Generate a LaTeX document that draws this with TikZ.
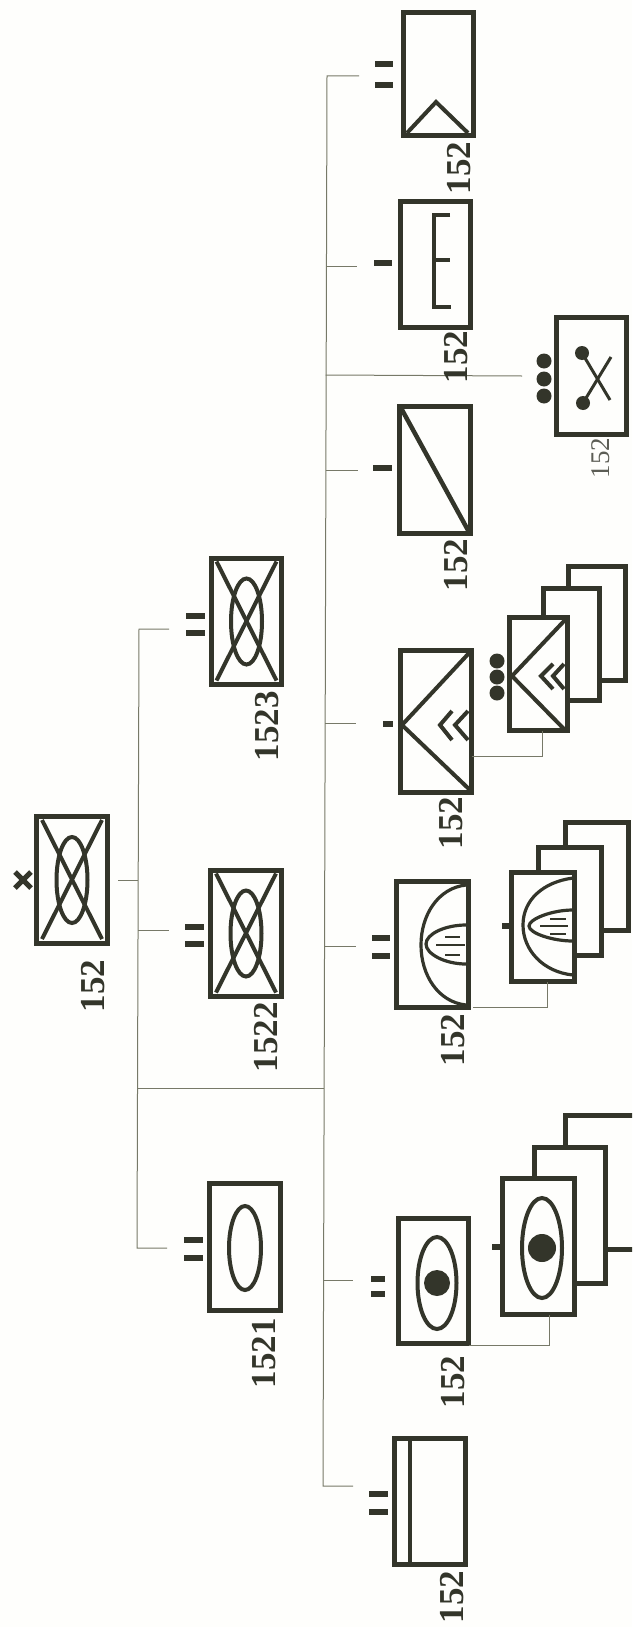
\documentclass[tikz,border=0pt]{standalone}
\usepackage{fontspec}
\setmainfont{Liberation Serif}
\definecolor{ink}{HTML}{33352A}
\definecolor{wire}{HTML}{777968}
\definecolor{paper}{HTML}{FEFEFC}
\tikzset{
  boxshape/.style={draw=ink,fill=paper,line width=5pt,inner sep=0pt,outer sep=0pt},
  glyph/.style={draw=ink,line width=4pt},
  finehatch/.style={draw=ink,line width=1.2pt},
  tick/.style={draw=ink,line width=5.5pt},
  wireline/.style={draw=wire,line width=1pt},
  reflabel/.style={rotate=90,text=ink,inner sep=0pt,font=\fontsize{35}{35}\selectfont\bfseries},
  smalllabel/.style={rotate=90,text=ink!80,inner sep=0pt,font=\fontsize{27}{27}\selectfont},
  dotmark/.style={fill=ink,draw=none}
}
\newcommand{\BX}[5]{\node[boxshape,minimum width={(#4-#2-5)*1pt},minimum height={(#5-#3-5)*1pt}] (#1) at ({(#2+#4)/2},{(#3+#5)/2}) {};}
\newcommand{\Cross}[2]{% ellipse and cross, centre x,y
  \draw[glyph] (#1,#2) ellipse [x radius=15.5,y radius=43];
  \draw[glyph] (#1-30,#2-60) -- (#1+30,#2+59);
  \draw[glyph] (#1+30,#2-60) -- (#1-30,#2+59);}
\newcommand{\HT}[4]{\draw[tick] (#1,#3) -- (#2,#3); \draw[tick] (#1,#4) -- (#2,#4);}
\begin{document}
\begin{tikzpicture}[x=1pt,y=-1pt]
\clip (0,0) rectangle (632,1627);
\fill[paper] (0,0) rectangle (632,1627);

% tree wires
\coordinate (rootS) at (118,880);
\coordinate (lt) at (139,629);
\coordinate (lm) at (138,880);
\coordinate (lj) at (137.5,1088);
\coordinate (lb) at (137,1248);
\coordinate (rt) at (327,76);
\coordinate (rj) at (324,1088);
\coordinate (rb) at (323,1486);
\coordinate (s1523) at (169,629);
\coordinate (s1522) at (169,930);
\coordinate (s1521) at (167,1248);
\coordinate (sTop) at (359,76);
\coordinate (sE) at (357,266);
\coordinate (sX) at (522,376);
\coordinate (bX) at (325.5,375);
\coordinate (sSl) at (358,470);
\coordinate (bSl) at (325.5,470);
\coordinate (sCh) at (356,723);
\coordinate (bCh) at (325,723);
\coordinate (sDo) at (356,946);
\coordinate (bDo) at (324.5,946);
\coordinate (sEy) at (353,1280);
\coordinate (bEy) at (323.5,1280);
\coordinate (sBa) at (353,1486);
\coordinate (bE) at (326.5,266);
\coordinate (l22) at (138,930);
\draw[wireline] (s1523) -- (lt) -- (lb) -- (s1521);
\draw[wireline] (rootS) -- (lm);
\draw[wireline] (l22) -- (s1522);
\draw[wireline] (lj) -- (rj);
\draw[wireline] (sTop) -- (rt) -- (rb) -- (sBa);
\draw[wireline] (bE) -- (sE);
\draw[wireline] (bX) -- (sX);
\draw[wireline] (bSl) -- (sSl);
\draw[wireline] (bCh) -- (sCh);
\draw[wireline] (bDo) -- (sDo);
\draw[wireline] (bEy) -- (sEy);

% root
\BX{root}{34}{814}{110}{946}
\Cross{72}{880}
\draw[draw=ink,line width=5pt] (15,872) -- (31,888) (15,888) -- (31,872);
\node[reflabel] (lroot) at (93,986) {152};

% level 2
\BX{b1523}{209}{556}{284}{687}
\Cross{246.5}{621.5}
\HT{186}{205}{616}{633}
\node[reflabel] (l1523) at (267,726) {1523};

\BX{b1522}{208}{868}{284}{999}
\Cross{246}{933.5}
\HT{185}{204}{927}{944}
\node[reflabel] (l1522) at (266,1037) {1522};

\BX{b1521}{207}{1181}{283}{1313}
\draw[glyph] (245,1248) ellipse [x radius=16,y radius=42];
\HT{184}{203}{1240}{1258}
\node[reflabel] (l1521) at (264,1353) {1521};

% top box
\BX{bTop}{401}{10}{476}{138}
\draw[glyph] (407,133) -- (436,102) -- (468,133);
\HT{375}{393}{64}{85}
\node[reflabel] (lTop) at (459,168) {152};

% E box
\BX{bE}{398}{199}{473}{330}
\draw[glyph,line join=miter] (450,215) -- (434,215) -- (434,307) -- (451,307);
\draw[glyph] (434,260) -- (450,260);
\draw[tick] (374,263) -- (392,263);
\node[reflabel] (lE) at (456,357) {152};

% slash box
\BX{bSl}{397}{404}{473}{536}
\draw[glyph,line width=4.5pt] (401,408) -- (469,532);
\draw[tick] (373,468) -- (392,468);
\node[reflabel] (lSl) at (456,565) {152};

% X box
\BX{bX}{554}{315}{629}{437}
\fill[dotmark] (582,353) circle [radius=7];
\fill[dotmark] (583,403) circle [radius=7];
\draw[glyph,line width=3pt] (582,353) -- (610,400);
\draw[glyph,line width=3pt] (583,403) -- (611,357);
\fill[dotmark] (544,361) circle [radius=7.5];
\fill[dotmark] (544,379) circle [radius=7.5];
\fill[dotmark] (544,396) circle [radius=7.5];
\node[smalllabel] (lX) at (601,458) {152};

% chevron box
\BX{bCh}{398}{648}{474}{795}
\draw[glyph] (470,652) -- (402,725) -- (470,790);
\draw[glyph] (452,711) -- (440,725) -- (452,740);
\draw[glyph] (468,711) -- (455,725) -- (468,740);
\draw[tick] (383,724) -- (393,724);
\node[reflabel] (lCh) at (451,823) {152};

% chevron stack
\BX{cBack}{566}{564}{628}{683}
\BX{cMid}{541}{586}{602}{703}
\BX{cFront}{507}{615}{570}{733}
\draw[glyph] (565,620) -- (512,676) -- (565,730);
\draw[glyph] (553,664) -- (541,676) -- (553,689);
\draw[glyph] (564,664) -- (553,676) -- (564,689);
\fill[dotmark] (497,661) circle [radius=7.5];
\fill[dotmark] (497,677) circle [radius=7.5];
\fill[dotmark] (497,693) circle [radius=7.5];
\coordinate (kCh) at (542,756);
\draw[wireline] (bCh.east |- kCh) -- (kCh) -- (cFront.south -| kCh);

% dome box
\BX{bDo}{394}{879}{471}{1010}
\draw[glyph,line width=3.2pt] (466,885) .. controls (438,888) and (421,915) .. (421,945) .. controls (421,975) and (438,1002) .. (466,1005);
\draw[glyph,line width=3.2pt] (466,925) .. controls (445,925) and (426,934) .. (426,944) .. controls (426,954) and (445,964) .. (466,964);
\draw[finehatch] (445,937) -- (460,937) (436,945) -- (465,945) (445,955) -- (460,955);
\HT{372}{390}{938}{956}
\node[reflabel] (lDo) at (453,1040) {152};

% dome stack
\BX{dBack}{563}{820}{631}{933}
\BX{dMid}{536}{845}{604}{958}
\BX{dFront}{509}{870}{577}{984}
\draw[glyph,line width=3.2pt] (573,878) .. controls (543,882) and (523,900) .. (523,925) .. controls (523,950) and (543,972) .. (573,975);
\draw[glyph,line width=3.2pt] (573,910) .. controls (552,910) and (529,919) .. (529,926) .. controls (529,933) and (552,941) .. (573,941);
\draw[finehatch] (550,919) -- (566,919) (540,926) -- (568,926) (550,934) -- (566,934);
\draw[tick] (502,926) -- (509,926);
\coordinate (kDo) at (547,1007);
\draw[wireline] (473,1007) -- (kDo) -- (dFront.south -| kDo);

% eye box
\BX{bEy}{396}{1216}{471}{1346}
\draw[glyph] (437,1283) ellipse [x radius=19.5,y radius=46];
\fill[dotmark] (437,1283) circle [radius=13];
\HT{371}{385}{1279}{1294}
\node[reflabel] (lEy) at (453,1382) {152};

% eye stack
\BX{eBack}{563}{1113}{660}{1252}
\BX{eMid}{532}{1145}{608}{1286}
\BX{eFront}{500}{1176}{577}{1317}
\draw[glyph] (542,1248) ellipse [x radius=20,y radius=50];
\fill[dotmark] (542,1248) circle [radius=14];
\draw[tick] (492,1247) -- (500,1247);
\coordinate (kEy) at (549,1345);
\draw[wireline] (bEy.east |- kEy) -- (kEy) -- (eFront.south -| kEy);

% bar box
\BX{bBa}{392}{1436}{468}{1567}
\draw[glyph] (410,1438) -- (410,1565);
\HT{369}{388}{1494}{1512}
\node[reflabel] (lBa) at (452,1597) {152};
\end{tikzpicture}
\end{document}
